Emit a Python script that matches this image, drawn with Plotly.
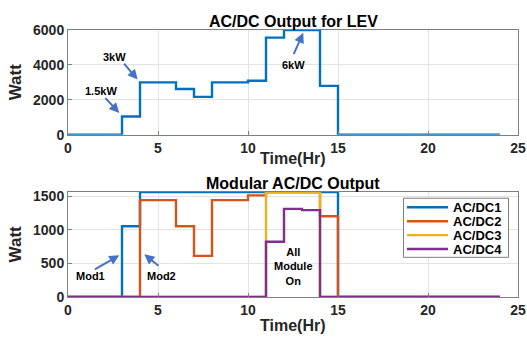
import plotly.graph_objects as go

# ---- data ----
t_total = [0, 3, 4, 6, 7, 8, 10, 11, 12, 14, 15, 24]
p_total = [0, 1050, 3000, 2620, 2170, 3000, 3090, 5560, 6000, 2800, 0, 0]

t_mod1 = [0, 3, 4, 15, 24]
p_mod1 = [0, 1050, 1560, 0, 0]

t_mod2 = [0, 4, 6, 7, 8, 10, 11, 14, 15, 24]
p_mod2 = [0, 1440, 1050, 610, 1440, 1510, 1560, 1200, 0, 0]

t_mod3 = [0, 11, 14, 24]
p_mod3 = [0, 1560, 0, 0]

t_mod4 = [0, 11, 12, 13, 14, 24]
p_mod4 = [0, 820, 1310, 1290, 0, 0]

mod_names = ["AC/DC1", "AC/DC2", "AC/DC3", "AC/DC4"]
mod_colors = ["#0072BD", "#D95319", "#EDB120", "#7E2F8E"]

x_ticks = [0, 5, 10, 15, 20, 25]
y_ticks_top = [0, 2000, 4000, 6000]
y_ticks_bot = [0, 500, 1000, 1500]

FONT = "Liberation Sans"
ARROW = "#4472C4"
W, H, L, R = 527, 344, 68, 9
PW = W - L - R

def px(xp):
    return (xp - L) / PW

def py(yp):
    return 1 - yp / H

fig = go.Figure()
fig.add_trace(go.Scatter(x=t_total, y=p_total, mode="lines", line_shape="hv",
                         line=dict(color=mod_colors[0], width=2.4),
                         showlegend=False, xaxis="x", yaxis="y"))
for t, p, n, c in zip([t_mod1, t_mod2, t_mod3, t_mod4],
                      [p_mod1, p_mod2, p_mod3, p_mod4], mod_names, mod_colors):
    fig.add_trace(go.Scatter(x=t, y=p, mode="lines", line_shape="hv", name=n,
                             line=dict(color=c, width=2.4), showlegend=False,
                             xaxis="x2", yaxis="y2"))

axis_common = dict(showline=True, linecolor="#7f7f7f", linewidth=1, mirror=True,
                   showgrid=True, gridcolor="#e3e3e3", zeroline=False,
                   ticks="inside", ticklen=4, tickcolor="#7f7f7f",
                   tickfont=dict(family=FONT, size=14, color="#262626", weight="bold"))

fig.update_layout(
    width=W, height=H,
    margin=dict(l=L, r=R, t=0, b=0),
    paper_bgcolor="white", plot_bgcolor="white",
    xaxis=dict(domain=[0, 1], anchor="y", range=[0, 25], tickvals=x_ticks, **axis_common),
    yaxis=dict(domain=[py(133), py(23)], anchor="x", range=[0, 6000], tickvals=y_ticks_top, **axis_common),
    xaxis2=dict(domain=[0, 1], anchor="y2", range=[0, 25], tickvals=x_ticks, **axis_common),
    yaxis2=dict(domain=[py(303), py(193)], anchor="x2", range=[0, 1560], tickvals=y_ticks_bot, **axis_common),
    showlegend=False,
)

annos = []
shapes = []

def txt(text, x, y, xref="paper", yref="paper", size=14, color="#000000", xanchor="center"):
    annos.append(dict(text=text, x=x, y=y, xref=xref, yref=yref, showarrow=False,
                      xanchor=xanchor, yanchor="middle",
                      font=dict(family=FONT, size=size, color=color, weight="bold")))

# titles and axis labels (paper coords)
txt("AC/DC Output for LEV", 0.5, py(14), size=16)
txt("Modular AC/DC Output", 0.5, py(184), size=16)
txt("Time(Hr)", 0.5, py(158), size=16, color="#262626")
txt("Time(Hr)", 0.5, py(333), size=16, color="#262626")
for yy in [py(78), py(248)]:
    annos.append(dict(text="Watt", x=px(15), y=yy, xref="paper", yref="paper",
                      showarrow=False, textangle=-90, xanchor="center", yanchor="middle",
                      font=dict(family=FONT, size=17, color="#262626", weight="bold")))

# legend box (manual, compact like the reference)
shapes.append(dict(type="rect", xref="paper", yref="paper",
                   x0=px(403.5), x1=px(508.5), y0=py(261.5), y1=py(199.5),
                   line=dict(color="#7f7f7f", width=1), fillcolor="white", layer="above"))
for i, (n, c) in enumerate(zip(mod_names, mod_colors)):
    yl = 209 + i * 14.6
    shapes.append(dict(type="line", xref="paper", yref="paper",
                       x0=px(407), x1=px(448), y0=py(yl), y1=py(yl),
                       line=dict(color=c, width=2.4), layer="above"))
    txt(n, px(451), py(yl), size=13, xanchor="left")

# data annotations
def lab(text, x, y, xr, yr):
    txt(text, x, y, xref=xr, yref=yr, size=11)

def arr(x0, y0, x1, y1, xr, yr):
    annos.append(dict(text="", x=x1, y=y1, ax=x0, ay=y0, xref=xr, yref=yr,
                      axref=xr, ayref=yr, showarrow=True, arrowhead=2,
                      arrowsize=1, arrowwidth=2, arrowcolor=ARROW))

lab("1.5kW", 1.82, 2493, "x", "y")
arr(2.0, 2182, 2.85, 1255, "x", "y")
lab("3kW", 2.61, 4435, "x", "y")
arr(3.04, 4162, 3.87, 3164, "x", "y")
lab("6kW", 12.52, 4020, "x", "y")
arr(12.5, 4527, 13.07, 5836, "x", "y")

lab("Mod1", 1.26, 304, "x2", "y2")
arr(1.41, 398, 2.85, 619, "x2", "y2")
lab("Mod2", 5.2, 304, "x2", "y2")
arr(5.11, 445, 4.24, 633, "x2", "y2")
lab("All<br>Module<br>On", 12.52, 454, "x2", "y2")

fig.update_layout(annotations=annos, shapes=shapes)
fig.write_html("out.html")
